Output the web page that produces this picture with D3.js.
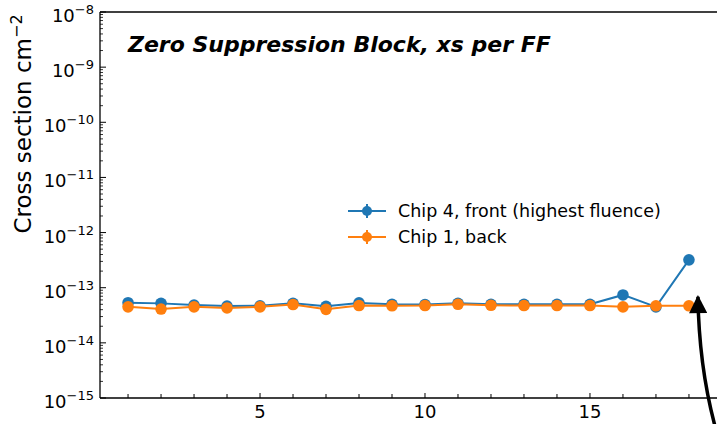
<!DOCTYPE html>
<html>
<head>
<meta charset="utf-8">
<script src="https://cdn.jsdelivr.net/npm/d3@7"></script>
<style>
  body { margin: 0; background: #fff; }
  svg { display: block; font-family: "DejaVu Sans", sans-serif; }
</style>
</head>
<body>
<div id="chart"></div>
<script>
// Data
var blocks = [1, 2, 3, 4, 5, 6, 7, 8, 9, 10, 11, 12, 13, 14, 15, 16, 17, 18];
var chip4Front = [5.35e-14, 5.2e-14, 4.85e-14, 4.65e-14, 4.7e-14, 5.2e-14, 4.6e-14, 5.3e-14, 5.0e-14,
                  4.95e-14, 5.2e-14, 5.0e-14, 5.0e-14, 5.0e-14, 5.0e-14, 7.4e-14, 4.5e-14, 3.2e-13];
var chip1Back = [4.5e-14, 4.1e-14, 4.5e-14, 4.3e-14, 4.5e-14, 4.95e-14, 4.05e-14, 4.75e-14, 4.7e-14,
                 4.75e-14, 5.0e-14, 4.8e-14, 4.75e-14, 4.75e-14, 4.75e-14, 4.5e-14, 4.7e-14, 4.7e-14];
var seriesNames = ["Chip 4, front (highest fluence)", "Chip 1, back"];
var seriesColors = ["#1f77b4", "#ff7f0e"];
var xTickLabels = [5, 10, 15];
var yExponents = [-15, -14, -13, -12, -11, -10, -9, -8];
var titleText = "Zero Suppression Block, xs per FF";

var W = 717, H = 424;
var margin = {left: 100, top: 12, right: 0, bottom: 26};

var svg = d3.select('#chart').append('svg')
    .attr('width', W)
    .attr('height', H);

var x = d3.scaleLinear().domain([0.15, 18.85]).range([margin.left, W - margin.right]);
var y = d3.scaleLog().domain([1e-15, 1e-8]).range([H - margin.bottom, margin.top]);

var plot = svg.append('g');

// Spines (left, bottom, top) - right one falls off the picture
var x0 = x.range()[0], x1 = x.range()[1], yb = y.range()[0], yt = y.range()[1];
plot.append('line').attr('x1', x0).attr('x2', x0).attr('y1', yt).attr('y2', yb)
    .attr('stroke', '#000').attr('stroke-width', 1.3);
plot.append('line').attr('x1', x0).attr('x2', x1).attr('y1', yb).attr('y2', yb)
    .attr('stroke', '#000').attr('stroke-width', 1.3);
plot.append('line').attr('x1', x0).attr('x2', x1).attr('y1', yt).attr('y2', yt)
    .attr('stroke', '#000').attr('stroke-width', 1.3);

// x ticks, inward, one per block, labels every 5
plot.selectAll('.xtick').data(blocks).enter().append('line')
    .attr('x1', d => x(d)).attr('x2', d => x(d))
    .attr('y1', yb).attr('y2', d => yb - (d % 5 === 0 ? 5 : 4))
    .attr('stroke', '#000').attr('stroke-width', 1);
plot.selectAll('.xlab').data(xTickLabels).enter().append('text')
    .attr('x', d => x(d)).attr('y', yb + 20)
    .attr('text-anchor', 'middle')
    .attr('font-size', 18)
    .text(d => d);

// y ticks: majors at decades, minors 2..9
var minors = [];
yExponents.slice(0, -1).forEach(function(e) {
  for (var k = 2; k <= 9; k++) minors.push(k * Math.pow(10, e));
});
plot.selectAll('.ymin').data(minors).enter().append('line')
    .attr('x1', x0).attr('x2', x0 + 3)
    .attr('y1', d => y(d)).attr('y2', d => y(d))
    .attr('stroke', '#000').attr('stroke-width', 0.8);
plot.selectAll('.ymaj').data(yExponents).enter().append('line')
    .attr('x1', x0).attr('x2', x0 + 6)
    .attr('y1', d => y(Math.pow(10, d))).attr('y2', d => y(Math.pow(10, d)))
    .attr('stroke', '#000').attr('stroke-width', 1);
var ylab = plot.selectAll('.ylab').data(yExponents).enter().append('text')
    .attr('x', x0 - 6).attr('y', d => y(Math.pow(10, d)) + 10)
    .attr('text-anchor', 'end')
    .attr('font-size', 18);
ylab.append('tspan').text('10');
ylab.append('tspan').attr('dy', -8).attr('font-size', 13).text(d => '\u2212' + Math.abs(d));

// y axis title
var yt_ = svg.append('text')
    .attr('transform', 'translate(31,124) rotate(-90)')
    .attr('text-anchor', 'middle')
    .attr('font-size', 23);
yt_.append('tspan').text('Cross section cm');
yt_.append('tspan').attr('dy', -9).attr('font-size', 16).text('\u22122');

// chart title inside the axes
svg.append('text')
    .attr('x', 128).attr('y', 52)
    .attr('font-size', 22)
    .attr('font-weight', 'bold')
    .attr('font-style', 'italic')
    .text(titleText);

// series
var series = [chip4Front, chip1Back];
var line = d3.line().x((d, i) => x(blocks[i])).y(d => y(d));
series.forEach(function(vals, s) {
  var g = plot.append('g');
  g.append('path').datum(vals)
      .attr('d', line)
      .attr('fill', 'none')
      .attr('stroke', seriesColors[s])
      .attr('stroke-width', 2);
  g.selectAll('circle').data(vals).enter().append('circle')
      .attr('cx', (d, i) => x(blocks[i]))
      .attr('cy', d => y(d))
      .attr('r', 5.8)
      .attr('fill', seriesColors[s]);
});

// legend
var lg = svg.append('g').attr('transform', 'translate(348,211)');
seriesNames.forEach(function(name, i) {
  var row = lg.append('g').attr('transform', 'translate(0,' + (i * 26) + ')');
  row.append('line').attr('x1', 0).attr('x2', 38).attr('y1', 0).attr('y2', 0)
      .attr('stroke', seriesColors[i]).attr('stroke-width', 2);
  row.append('line').attr('x1', 19).attr('x2', 19).attr('y1', -7).attr('y2', 7)
      .attr('stroke', seriesColors[i]).attr('stroke-width', 2);
  row.append('circle').attr('cx', 19).attr('cy', 0).attr('r', 5)
      .attr('fill', seriesColors[i]);
  row.append('text').attr('x', 50).attr('y', 6)
      .attr('font-size', 17.5)
      .text(name);
});

// annotation arrow pointing at the last block
var tipX = x(18) + 9, tipY = y(chip1Back[17]) - 10;
var defs = svg.append('defs');
defs.append('marker').attr('id', 'head')
    .attr('viewBox', '0 0 10 10').attr('refX', 9).attr('refY', 5)
    .attr('markerWidth', 7.5).attr('markerHeight', 5.2)
    .attr('markerUnits', 'strokeWidth')
    .attr('orient', 'auto')
  .append('path').attr('d', 'M0,0 L10,5 L0,10 Z').attr('fill', '#000');
svg.append('path')
    .attr('d', 'M' + (tipX + 17) + ',' + (H + 2) + ' Q' + (tipX + 1) + ',' + (tipY + 70) + ' ' + tipX + ',' + (tipY + 1))
    .attr('fill', 'none')
    .attr('stroke', '#000')
    .attr('stroke-width', 3.5)
    .attr('marker-end', 'url(#head)');
</script>
</body>
</html>
